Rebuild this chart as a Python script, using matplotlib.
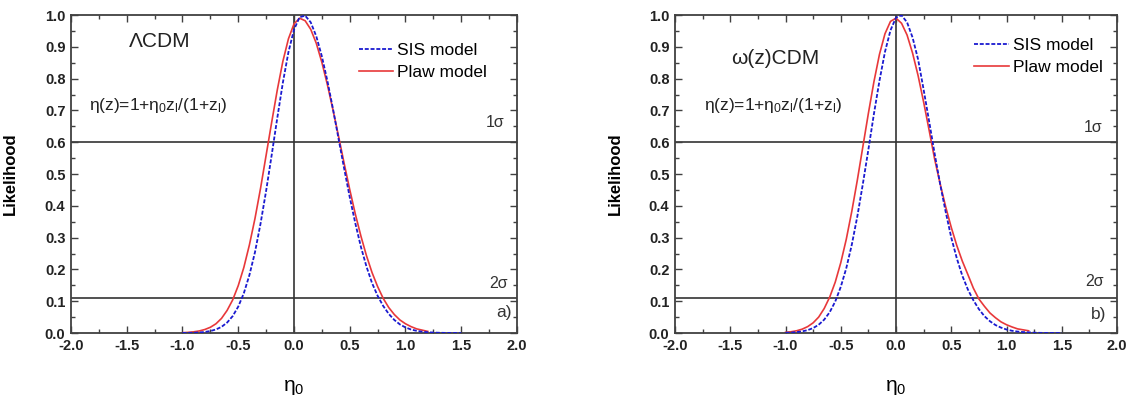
import matplotlib
matplotlib.use("Agg")
import matplotlib.pyplot as plt
from matplotlib.ticker import MultipleLocator

plt.rcParams['font.family'] = ['Liberation Sans', 'DejaVu Sans']
plt.rcParams['mathtext.default'] = 'regular'

# eta_0 grids (SIS curves run to 1.5, Plaw curves stop at 1.2)
eta_sis = [-1.00, -0.95, -0.90, -0.85, -0.80, -0.75, -0.70, -0.65, -0.60, -0.55,
           -0.50, -0.45, -0.40, -0.35, -0.30, -0.25, -0.20, -0.15, -0.10, -0.05,
           0.00, 0.05, 0.10, 0.15, 0.20, 0.25, 0.30, 0.35, 0.40, 0.45,
           0.50, 0.55, 0.60, 0.65, 0.70, 0.75, 0.80, 0.85, 0.90, 0.95,
           1.00, 1.05, 1.10, 1.15, 1.20, 1.25, 1.30, 1.35, 1.40, 1.45, 1.50]
eta_plaw = [-1.00, -0.95, -0.90, -0.85, -0.80, -0.75, -0.70, -0.65, -0.60, -0.55,
            -0.50, -0.45, -0.40, -0.35, -0.30, -0.25, -0.20, -0.15, -0.10, -0.05,
            0.00, 0.05, 0.10, 0.15, 0.20, 0.25, 0.30, 0.35, 0.40, 0.45,
            0.50, 0.55, 0.60, 0.65, 0.70, 0.75, 0.80, 0.85, 0.90, 0.95,
            1.00, 1.05, 1.10, 1.15, 1.20]

# a) LambdaCDM
lcdm_sis = [0.0002, 0.0004, 0.0008, 0.0016, 0.0033, 0.0062, 0.0111, 0.0193, 0.0328, 0.053,
            0.083, 0.125, 0.182, 0.254, 0.344, 0.447, 0.560, 0.676, 0.787, 0.883,
            0.954, 0.993, 0.998, 0.977, 0.933, 0.870, 0.792, 0.704, 0.610, 0.517,
            0.427, 0.345, 0.271, 0.209, 0.157, 0.117, 0.085, 0.060, 0.041, 0.027,
            0.0175, 0.011, 0.0068, 0.0041, 0.0024, 0.0014, 0.0008, 0.0004, 0.0002, 0.0001, 0.0]
lcdm_plaw = [0.001, 0.002, 0.0037, 0.0064, 0.011, 0.018, 0.029, 0.046, 0.071, 0.104,
             0.149, 0.206, 0.277, 0.360, 0.455, 0.559, 0.663, 0.764, 0.854, 0.925,
             0.972, 0.990, 0.982, 0.955, 0.911, 0.851, 0.780, 0.701, 0.618, 0.533,
             0.451, 0.374, 0.305, 0.243, 0.190, 0.146, 0.109, 0.080, 0.058, 0.041,
             0.029, 0.020, 0.013, 0.009, 0.005]

# b) w(z)CDM
wcdm_sis = [0.0007, 0.0014, 0.0027, 0.0051, 0.009, 0.0155, 0.026, 0.042, 0.0655, 0.099,
            0.145, 0.204, 0.278, 0.367, 0.469, 0.577, 0.689, 0.793, 0.884, 0.952,
            0.992, 0.999, 0.977, 0.929, 0.860, 0.765, 0.665, 0.563, 0.467, 0.380,
            0.300, 0.235, 0.180, 0.137, 0.103, 0.075, 0.053, 0.037, 0.025, 0.017,
            0.011, 0.007, 0.0045, 0.003, 0.002, 0.001, 0.0005, 0.0002, 0.0, 0.0, 0.0]
wcdm_plaw = [0.002, 0.004, 0.007, 0.012, 0.020, 0.032, 0.050, 0.077, 0.113, 0.160,
             0.221, 0.295, 0.383, 0.481, 0.586, 0.691, 0.790, 0.876, 0.941, 0.980,
             0.990, 0.974, 0.937, 0.880, 0.809, 0.726, 0.637, 0.546, 0.468, 0.396,
             0.332, 0.275, 0.226, 0.184, 0.141, 0.107, 0.084, 0.063, 0.048, 0.035,
             0.026, 0.019, 0.013, 0.010, 0.007]

sigma1 = 0.6
sigma2 = 0.11

fig = plt.figure(figsize=(11.36, 3.99), dpi=100)
ax_a = fig.add_axes([0.0625, 0.1654, 0.3926, 0.797])
ax_b = fig.add_axes([0.5942, 0.1654, 0.3891, 0.797])

panels = [
    (ax_a, lcdm_sis, lcdm_plaw, u'\u039bCDM', (-1.2, 0.916), (-1.84, 0.714),
     (0.58, 0.912), (1.80, 0.661), (1.83, 0.157), 'a)', (1.88, 0.063)),
    (ax_b, wcdm_sis, wcdm_plaw, u'\u03c9(z)CDM', (-1.09, 0.863), (-1.74, 0.714),
     (0.71, 0.928), (1.78, 0.645), (1.80, 0.163), 'b)', (1.83, 0.058)),
]

for (ax, sis, plaw, model, model_xy, eq_xy, leg_xy,
     s1_xy, s2_xy, tag, tag_xy) in panels:
    ax.axhline(sigma1, color='#333333', lw=1.2, zorder=1)
    ax.axhline(sigma2, color='#333333', lw=1.2, zorder=1)
    ax.axvline(0.0, color='#333333', lw=1.2, zorder=1)

    ax.plot(eta_sis, sis, color='#1a1ad0', lw=1.3, ls=(0, (2.2, 1.0)),
            label='SIS model', zorder=3)
    ax.plot(eta_plaw, plaw, color='#e8383a', lw=1.2, label='Plaw model', zorder=2)

    ax.set_xlim(-2.0, 2.0)
    ax.set_ylim(0.0, 1.0)
    ax.xaxis.set_major_locator(MultipleLocator(0.5))
    ax.xaxis.set_minor_locator(MultipleLocator(0.25))
    ax.yaxis.set_major_locator(MultipleLocator(0.1))
    ax.yaxis.set_minor_locator(MultipleLocator(0.05))
    ax.xaxis.set_major_formatter(plt.FormatStrFormatter('%.1f'))
    ax.yaxis.set_major_formatter(plt.FormatStrFormatter('%.1f'))
    ax.tick_params(which='both', direction='in', top=True, right=True,
                   color='#404040', width=1.0)
    ax.tick_params(which='major', length=5)
    ax.tick_params(which='minor', length=3)
    ax.tick_params(axis='x', pad=4)
    ax.tick_params(axis='y', pad=4)
    for lbl in ax.get_xticklabels() + ax.get_yticklabels():
        lbl.set_fontweight('bold')
        lbl.set_fontsize(10.5)
        lbl.set_color('#222222')
    for sp in ax.spines.values():
        sp.set_color('#404040')
        sp.set_linewidth(1.3)

    ax.set_ylabel('Likelihood', fontsize=12, fontweight='bold')
    ax.yaxis.set_label_coords(-0.119, 0.5)
    ax.set_xlabel(u'\u03b7$_0$', fontsize=15)
    ax.xaxis.set_label_coords(0.5, -0.14)

    ax.text(model_xy[0], model_xy[1], model, fontsize=15,
            ha='center', va='center', color='#222222')
    ax.text(eq_xy[0], eq_xy[1], u'\u03b7(z)=1+\u03b7$_0$z$_l$/(1+z$_l$)',
            fontsize=12.5, ha='left', va='center', color='#222222')
    ax.text(s1_xy[0], s1_xy[1], u'1\u03c3', fontsize=11.5,
            ha='center', va='center', color='#333333')
    ax.text(s2_xy[0], s2_xy[1], u'2\u03c3', fontsize=11.5,
            ha='center', va='center', color='#333333')
    ax.text(tag_xy[0], tag_xy[1], tag, fontsize=12.5,
            ha='center', va='center', color='#333333')

    ax.legend(loc='upper left', bbox_to_anchor=leg_xy,
              bbox_transform=ax.transData, frameon=False, fontsize=12.5,
              handlelength=2.0, handletextpad=0.2, labelspacing=0.4,
              borderpad=0.0, borderaxespad=0.0)

fig.savefig('out.png', dpi=100)
